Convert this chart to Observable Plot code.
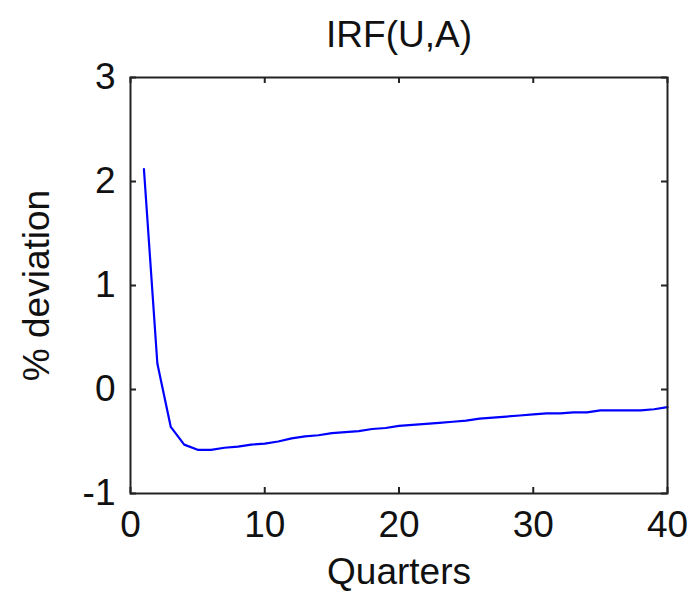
<!DOCTYPE html>
<html>
<head>
<meta charset="utf-8">
<script src="https://cdn.jsdelivr.net/npm/d3@7"></script>
<script src="https://cdn.jsdelivr.net/npm/@observablehq/plot@0.6"></script>
<style>
  html, body { margin: 0; padding: 0; background: #fff; }
</style>
</head>
<body>
<div id="chart"></div>
<script>
const title = "IRF(U,A)";
const xLabel = "Quarters";
const yLabel = "% deviation";
const quarters = d3.range(1, 41);
const irf = [
  2.12, 0.25, -0.36, -0.53, -0.58, -0.58, -0.56, -0.55, -0.53, -0.52,
  -0.50, -0.47, -0.45, -0.44, -0.42, -0.41, -0.40, -0.38, -0.37, -0.35,
  -0.34, -0.33, -0.32, -0.31, -0.30, -0.28, -0.27, -0.26, -0.25, -0.24,
  -0.23, -0.23, -0.22, -0.22, -0.20, -0.20, -0.20, -0.20, -0.19, -0.17
];
const xTicks = [0, 10, 20, 30, 40];
const yTicks = [-1, 0, 1, 2, 3];

const data = quarters.map((q, i) => ({q, v: irf[i]}));

const W = 694, H = 596;
const mL = 130, mR = 27, mT = 77, mB = 103;
const fw = W - mL - mR, fh = H - mT - mB;
const tl = 6;

const chart = Plot.plot({
  width: W,
  height: H,
  marginLeft: mL,
  marginRight: mR,
  marginTop: mT,
  marginBottom: mB,
  style: {fontFamily: "'Liberation Sans', Arial, sans-serif", fontSize: "37px", color: "#111", background: "#fff"},
  x: {domain: [0, 40], label: null},
  y: {domain: [-1, 3], label: null},
  marks: [
    Plot.line(data, {x: "q", y: "v", stroke: "#0000ff", strokeWidth: 2.2}),
    Plot.tickX(xTicks, {x: d => d, insetTop: fh - tl, stroke: "#222", strokeWidth: 2}),
    Plot.tickX(xTicks, {x: d => d, insetBottom: fh - tl, stroke: "#222", strokeWidth: 2}),
    Plot.tickY(yTicks, {y: d => d, insetRight: fw - tl, stroke: "#222", strokeWidth: 2}),
    Plot.tickY(yTicks, {y: d => d, insetLeft: fw - tl, stroke: "#222", strokeWidth: 2}),
    Plot.frame({stroke: "#222", strokeWidth: 2}),
    Plot.axisX(xTicks, {anchor: "bottom", tickSize: 0, tickPadding: 17, label: null, fontSize: 37, tickFormat: d => String(d)}),
    Plot.axisY(yTicks, {anchor: "left", tickSize: 0, tickPadding: 15, label: null, fontSize: 37, tickFormat: d => String(d)}),
    Plot.text([xLabel], {frameAnchor: "bottom", dy: 90, lineAnchor: "bottom", text: d => d, fontSize: 37, fill: "#111"}),
    Plot.text([title], {frameAnchor: "top", dy: -31, lineAnchor: "bottom", text: d => d, fontSize: 37, fill: "#111"}),
    Plot.text([yLabel], {frameAnchor: "left", dx: -93, rotate: -90, lineAnchor: "middle", textAnchor: "middle", text: d => d, fontSize: 37, fill: "#111"})
  ]
});
document.getElementById("chart").appendChild(chart);
</script>
</body>
</html>
